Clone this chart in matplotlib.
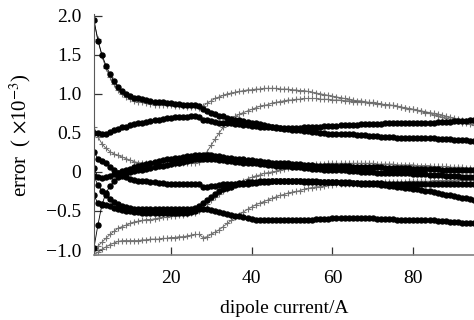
import numpy as np
import matplotlib
matplotlib.use("Agg")
import matplotlib.pyplot as plt

plt.rcParams['font.family'] = 'Liberation Serif'
plt.rcParams['mathtext.fontset'] = 'stix'

# dipole current (A), one reading per amp
current = np.arange(1, 96)

# black dot series (error, x10^-3)
black_a = [1.95, 1.68, 1.50, 1.36, 1.25, 1.16, 1.09, 1.04, 1.00, 0.97,
           0.95, 0.94, 0.93, 0.92, 0.91, 0.90, 0.89, 0.89, 0.88, 0.88,
           0.87, 0.87, 0.86, 0.86, 0.85, 0.85, 0.84, 0.80, 0.78, 0.76,
           0.74, 0.72, 0.71, 0.69, 0.68, 0.67, 0.66, 0.65, 0.64, 0.63,
           0.62, 0.61, 0.60, 0.59, 0.58, 0.57, 0.56, 0.55, 0.55, 0.54,
           0.53, 0.53, 0.52, 0.52, 0.51, 0.51, 0.50, 0.50, 0.49, 0.49,
           0.49, 0.48, 0.48, 0.48, 0.48, 0.47, 0.47, 0.47, 0.46, 0.46,
           0.46, 0.45, 0.45, 0.45, 0.45, 0.44, 0.44, 0.44, 0.44, 0.43,
           0.43, 0.43, 0.43, 0.43, 0.43, 0.42, 0.42, 0.42, 0.42, 0.41,
           0.41, 0.41, 0.41, 0.40, 0.40]
black_b = [0.50, 0.50, 0.48, 0.49, 0.51, 0.53, 0.55, 0.57, 0.58, 0.60,
           0.61, 0.62, 0.63, 0.64, 0.65, 0.66, 0.67, 0.68, 0.69, 0.69,
           0.70, 0.70, 0.70, 0.70, 0.71, 0.71, 0.70, 0.67, 0.66, 0.65,
           0.64, 0.63, 0.63, 0.62, 0.62, 0.61, 0.61, 0.60, 0.60, 0.59,
           0.59, 0.58, 0.58, 0.57, 0.57, 0.56, 0.56, 0.56, 0.56, 0.56,
           0.56, 0.56, 0.57, 0.57, 0.57, 0.58, 0.58, 0.59, 0.59, 0.59,
           0.59, 0.60, 0.60, 0.60, 0.60, 0.60, 0.61, 0.61, 0.61, 0.61,
           0.61, 0.61, 0.62, 0.62, 0.62, 0.62, 0.62, 0.62, 0.62, 0.62,
           0.63, 0.63, 0.63, 0.63, 0.63, 0.64, 0.64, 0.64, 0.64, 0.65,
           0.65, 0.65, 0.65, 0.66, 0.66]
black_c = [0.05, -0.06, -0.08, -0.07, -0.05, -0.03, -0.01, 0.01, 0.03, 0.04,
           0.06, 0.07, 0.09, 0.10, 0.12, 0.13, 0.14, 0.15, 0.16, 0.17,
           0.18, 0.18, 0.19, 0.20, 0.20, 0.21, 0.22, 0.22, 0.21, 0.21,
           0.20, 0.20, 0.19, 0.18, 0.18, 0.17, 0.16, 0.16, 0.15, 0.15,
           0.14, 0.14, 0.13, 0.13, 0.12, 0.12, 0.11, 0.11, 0.11, 0.10,
           0.10, 0.10, 0.09, 0.09, 0.09, 0.08, 0.08, 0.08, 0.08, 0.07,
           0.07, 0.07, 0.07, 0.07, 0.06, 0.06, 0.06, 0.06, 0.06, 0.06,
           0.06, 0.06, 0.05, 0.05, 0.05, 0.05, 0.05, 0.05, 0.05, 0.04,
           0.04, 0.04, 0.04, 0.04, 0.04, 0.04, 0.03, 0.03, 0.03, 0.03,
           0.03, 0.03, 0.02, 0.02, 0.02]
black_d = [-0.98, -0.68, -0.42, -0.27, -0.18, -0.12, -0.07, -0.04, -0.02, 0.00,
           0.01, 0.02, 0.03, 0.04, 0.05, 0.06, 0.07, 0.08, 0.09, 0.10,
           0.11, 0.12, 0.13, 0.14, 0.15, 0.16, 0.17, 0.17, 0.17, 0.16,
           0.16, 0.15, 0.15, 0.14, 0.14, 0.13, 0.13, 0.12, 0.12, 0.11,
           0.11, 0.10, 0.10, 0.09, 0.09, 0.08, 0.08, 0.07, 0.07, 0.06,
           0.06, 0.06, 0.05, 0.05, 0.04, 0.04, 0.04, 0.03, 0.03, 0.03,
           0.02, 0.02, 0.02, 0.01, 0.01, 0.01, 0.00, 0.00, 0.00, 0.00,
           -0.01, -0.01, -0.01, -0.01, -0.02, -0.02, -0.02, -0.02, -0.02, -0.03,
           -0.03, -0.03, -0.03, -0.04, -0.04, -0.04, -0.04, -0.05, -0.05, -0.05,
           -0.05, -0.06, -0.06, -0.06, -0.07]
black_f = [0.26, 0.17, 0.14, 0.11, 0.06, 0.02, -0.02, -0.05, -0.07, -0.09,
           -0.10, -0.11, -0.12, -0.12, -0.13, -0.13, -0.14, -0.14, -0.15, -0.15,
           -0.15, -0.15, -0.15, -0.15, -0.15, -0.16, -0.16, -0.19, -0.19, -0.18,
           -0.18, -0.17, -0.16, -0.16, -0.15, -0.15, -0.14, -0.14, -0.13, -0.13,
           -0.13, -0.12, -0.12, -0.12, -0.12, -0.12, -0.12, -0.12, -0.12, -0.12,
           -0.12, -0.12, -0.13, -0.13, -0.13, -0.13, -0.13, -0.13, -0.13, -0.13,
           -0.13, -0.14, -0.14, -0.14, -0.14, -0.14, -0.15, -0.15, -0.15, -0.16,
           -0.16, -0.17, -0.17, -0.18, -0.18, -0.19, -0.19, -0.20, -0.21, -0.22,
           -0.22, -0.23, -0.24, -0.25, -0.26, -0.27, -0.28, -0.29, -0.30, -0.31,
           -0.32, -0.33, -0.34, -0.35, -0.36]
black_g = [-0.05, -0.17, -0.24, -0.30, -0.35, -0.38, -0.41, -0.43, -0.45, -0.46,
           -0.47, -0.47, -0.48, -0.48, -0.48, -0.48, -0.48, -0.48, -0.48, -0.48,
           -0.48, -0.48, -0.48, -0.47, -0.47, -0.46, -0.44, -0.40, -0.36, -0.32,
           -0.28, -0.25, -0.22, -0.20, -0.19, -0.17, -0.16, -0.15, -0.15, -0.14,
           -0.14, -0.13, -0.13, -0.13, -0.12, -0.12, -0.12, -0.12, -0.12, -0.12,
           -0.12, -0.12, -0.12, -0.12, -0.12, -0.12, -0.13, -0.13, -0.13, -0.13,
           -0.13, -0.13, -0.13, -0.13, -0.14, -0.14, -0.14, -0.14, -0.14, -0.14,
           -0.14, -0.14, -0.15, -0.15, -0.15, -0.15, -0.15, -0.15, -0.15, -0.15,
           -0.15, -0.15, -0.15, -0.15, -0.15, -0.15, -0.15, -0.15, -0.15, -0.15,
           -0.15, -0.15, -0.15, -0.15, -0.15]
black_h = [-0.30, -0.40, -0.41, -0.42, -0.44, -0.46, -0.48, -0.49, -0.50, -0.50,
           -0.51, -0.51, -0.52, -0.52, -0.52, -0.53, -0.53, -0.53, -0.53, -0.53,
           -0.53, -0.53, -0.53, -0.52, -0.51, -0.50, -0.48, -0.47, -0.48, -0.49,
           -0.50, -0.51, -0.53, -0.54, -0.55, -0.56, -0.57, -0.58, -0.59, -0.60,
           -0.61, -0.61, -0.62, -0.62, -0.62, -0.62, -0.62, -0.62, -0.62, -0.62,
           -0.62, -0.62, -0.61, -0.61, -0.61, -0.60, -0.60, -0.60, -0.60, -0.59,
           -0.59, -0.59, -0.59, -0.59, -0.59, -0.59, -0.59, -0.59, -0.59, -0.59,
           -0.60, -0.60, -0.60, -0.60, -0.60, -0.61, -0.61, -0.61, -0.61, -0.61,
           -0.62, -0.62, -0.62, -0.62, -0.62, -0.63, -0.63, -0.63, -0.64, -0.64,
           -0.64, -0.65, -0.65, -0.66, -0.66]

# grey cross series
grey_1 = [1.93, 1.70, 1.48, 1.33, 1.21, 1.12, 1.05, 1.00, 0.96, 0.93,
          0.91, 0.90, 0.89, 0.88, 0.87, 0.86, 0.86, 0.85, 0.85, 0.85,
          0.84, 0.84, 0.84, 0.83, 0.83, 0.83, 0.82, 0.84, 0.88, 0.91,
          0.94, 0.96, 0.98, 1.00, 1.01, 1.02, 1.03, 1.04, 1.05, 1.05,
          1.06, 1.06, 1.07, 1.07, 1.07, 1.07, 1.06, 1.06, 1.06, 1.05,
          1.05, 1.04, 1.04, 1.03, 1.02, 1.01, 1.00, 0.99, 0.98, 0.97,
          0.96, 0.95, 0.94, 0.93, 0.92, 0.91, 0.91, 0.90, 0.89, 0.89,
          0.88, 0.87, 0.86, 0.86, 0.85, 0.84, 0.83, 0.82, 0.81, 0.80,
          0.79, 0.78, 0.77, 0.76, 0.75, 0.74, 0.73, 0.71, 0.70, 0.69,
          0.68, 0.67, 0.65, 0.64, 0.63]
grey_2 = [0.58, 0.45, 0.36, 0.30, 0.26, 0.23, 0.21, 0.19, 0.17, 0.15,
          0.13, 0.12, 0.11, 0.11, 0.10, 0.10, 0.10, 0.10, 0.10, 0.10,
          0.10, 0.11, 0.11, 0.11, 0.12, 0.12, 0.13, 0.18, 0.26, 0.34,
          0.42, 0.50, 0.57, 0.63, 0.68, 0.71, 0.74, 0.76, 0.78, 0.80,
          0.82, 0.84, 0.85, 0.86, 0.88, 0.89, 0.90, 0.91, 0.92, 0.92,
          0.93, 0.93, 0.94, 0.94, 0.94, 0.94, 0.93, 0.93, 0.93, 0.92,
          0.92, 0.92, 0.91, 0.91, 0.90, 0.90, 0.89, 0.89, 0.88, 0.88,
          0.87, 0.87, 0.86, 0.85, 0.85, 0.84, 0.83, 0.82, 0.81, 0.80,
          0.79, 0.78, 0.76, 0.75, 0.73, 0.72, 0.70, 0.69, 0.67, 0.66,
          0.65, 0.63, 0.62, 0.61, 0.60]
grey_3 = [-1.00, -0.95, -0.90, -0.85, -0.80, -0.76, -0.72, -0.70, -0.68, -0.66,
          -0.64, -0.63, -0.62, -0.61, -0.61, -0.60, -0.59, -0.58, -0.58, -0.57,
          -0.56, -0.55, -0.55, -0.54, -0.53, -0.52, -0.50, -0.45, -0.41, -0.36,
          -0.32, -0.28, -0.25, -0.22, -0.19, -0.16, -0.14, -0.11, -0.09, -0.07,
          -0.05, -0.04, -0.02, -0.01, 0.00, 0.01, 0.03, 0.04, 0.05, 0.06,
          0.07, 0.07, 0.08, 0.09, 0.09, 0.10, 0.10, 0.10, 0.11, 0.11,
          0.11, 0.11, 0.11, 0.11, 0.11, 0.11, 0.11, 0.11, 0.11, 0.11,
          0.10, 0.10, 0.10, 0.10, 0.10, 0.09, 0.09, 0.09, 0.09, 0.09,
          0.08, 0.08, 0.08, 0.08, 0.07, 0.07, 0.07, 0.07, 0.06, 0.06,
          0.06, 0.06, 0.05, 0.05, 0.05]
grey_4 = [-1.06, -1.03, -0.99, -0.96, -0.93, -0.91, -0.89, -0.88, -0.88, -0.88,
          -0.88, -0.88, -0.87, -0.87, -0.86, -0.86, -0.86, -0.85, -0.85, -0.84,
          -0.84, -0.83, -0.83, -0.82, -0.81, -0.80, -0.80, -0.84, -0.83, -0.80,
          -0.77, -0.74, -0.70, -0.66, -0.62, -0.58, -0.55, -0.51, -0.48, -0.45,
          -0.42, -0.40, -0.38, -0.36, -0.34, -0.32, -0.30, -0.29, -0.27, -0.26,
          -0.25, -0.24, -0.22, -0.21, -0.20, -0.19, -0.19, -0.18, -0.17, -0.17,
          -0.16, -0.16, -0.16, -0.15, -0.15, -0.15, -0.15, -0.14, -0.14, -0.14,
          -0.14, -0.14, -0.13, -0.13, -0.13, -0.13, -0.13, -0.13, -0.12, -0.12,
          -0.12, -0.12, -0.12, -0.12, -0.11, -0.11, -0.11, -0.11, -0.11, -0.11,
          -0.10, -0.10, -0.10, -0.10, -0.10]

black_series = [black_a, black_b, black_c, black_d, black_f, black_g, black_h]
grey_series = [grey_1, grey_2, grey_3, grey_4]

ytick_values = [-1.0, -0.5, 0, 0.5, 1.0, 1.5, 2.0]
ytick_labels = ['\u22121.0', '\u22120.5', '0', '0.5', '1.0', '1.5', '2.0']
xtick_values = [20, 40, 60, 80]

fig = plt.figure(figsize=(4.74, 3.2), dpi=100)
ax = fig.add_axes([0.198, 0.203, 0.802, 0.753])

for s in grey_series:
    ax.plot(current, s, color='0.35', lw=0.6, marker='+', ms=5,
            mew=0.8, mec='0.45')
for s in black_series:
    ax.plot(current, s, color='black', lw=0.6, marker='o', ms=3.6,
            mec='black', mfc='black')

ax.set_xlim(1, 95)
ax.set_ylim(-1.064, 2.02)
ax.set_xticks(xtick_values)
ax.set_yticks(ytick_values)
ax.set_yticklabels(ytick_labels)
ax.tick_params(direction='in', length=6, width=0.9, labelsize=14, color='0.2')
ax.tick_params(axis='x', pad=11)
ax.tick_params(axis='y', pad=9)
ax.spines['top'].set_visible(False)
ax.spines['right'].set_visible(False)
ax.spines['left'].set_color('0.35')
ax.spines['bottom'].set_color('0.5')
ax.spines['bottom'].set_linewidth(1.2)

ax.set_xlabel('dipole current/A', fontsize=14, labelpad=9)
ax.set_ylabel('error  ( $\\times$10$^{-3}$)', fontsize=15, labelpad=9)

plt.savefig('out.png', dpi=100)
